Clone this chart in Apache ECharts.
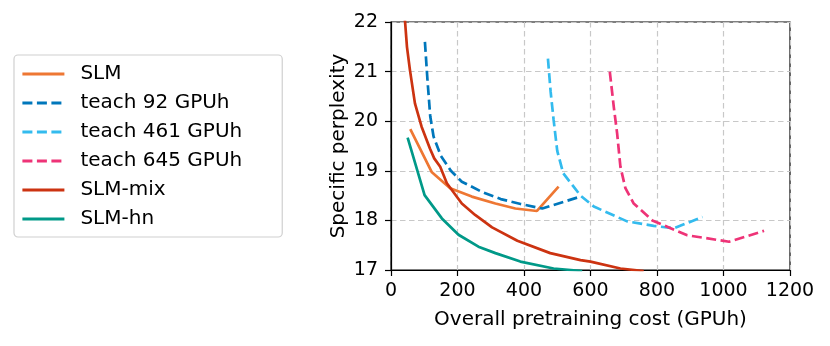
<!DOCTYPE html>
<html>
<head>
<meta charset="utf-8">
<script src="https://cdn.jsdelivr.net/npm/echarts@6/dist/echarts.min.js"></script>
<style>html,body{margin:0;padding:0;background:#fff;}#c{width:830px;height:346px;}</style>
</head>
<body>
<div id="c"></div>
<script>
const xTicks = [0, 200, 400, 600, 800, 1000, 1200];
const yTicks = [17, 18, 19, 20, 21, 22];

const slm = [[58,19.84],[123,18.97],[178,18.65],[243,18.48],[314,18.34],[374,18.24],[439,18.19],[504,18.68]];
const teach92 = [[102,21.6],[110,20.8],[118,20.1],[128,19.69],[150,19.3],[180,19.0],[213,18.78],[275,18.57],[330,18.43],[390,18.33],[455,18.24],[570,18.48]];
const teach461 = [[472,21.26],[480,20.6],[489,20.03],[500,19.4],[518,18.95],[570,18.5],[610,18.28],[710,17.98],[790,17.89],[851,17.84],[937,18.07]];
const teach645 = [[658,21.0],[670,20.29],[680,19.76],[690,19.08],[705,18.65],[730,18.34],[786,18.0],[891,17.7],[1017,17.57],[1122,17.79]];
const slmMix = [[39,22.3],[48,21.5],[57,21.03],[72,20.36],[92,19.89],[117,19.45],[130,19.25],[148,19.08],[168,18.75],[213,18.34],[253,18.11],[304,17.86],[380,17.59],[479,17.34],[570,17.2],[600,17.17],[690,17.03],[760,16.98]];
const slmHn = [[50,19.67],[101,18.51],[153,18.04],[203,17.71],[263,17.47],[314,17.34],[389,17.17],[489,17.03],[575,16.98]];

const names = ['SLM','teach 92 GPUh','teach 461 GPUh','teach 645 GPUh','SLM-mix','SLM-hn'];
const colors = ['#EE7733','#0077BB','#33BBEE','#EE3377','#CC3311','#009988'];
const datasets = [slm, teach92, teach461, teach645, slmMix, slmHn];
const dashed = [false, true, true, true, false, false];

const FONT = 'DejaVu Sans';
const chart = echarts.init(document.getElementById('c'), null, {renderer:'canvas'});
const gridLine = {show:true, lineStyle:{color:'#c8c8c8', width:1.2, type:[5.5,3.5]}};
chart.setOption({
  animation:false,
  backgroundColor:'#fff',
  grid:{left:391, right:40, top:22, bottom:76, show:true, borderColor:'#000', borderWidth:1.2, backgroundColor:'transparent'},
  legend:{
    orient:'vertical', left:14, top:55,
    padding:[9,40,8,7],
    itemWidth:42, itemHeight:14, itemGap:9,
    borderColor:'#d0d0d0', borderWidth:1.2, borderRadius:4,
    itemStyle:{color:'transparent', borderWidth:0, opacity:0},
    lineStyle:{width:2.8},
    textStyle:{fontFamily:FONT, fontSize:20, color:'#000', padding:[0,0,0,11]},
    data:names
  },
  xAxis:{
    type:'value', min:xTicks[0], max:xTicks[xTicks.length-1], interval:200,
    name:'Overall pretraining cost (GPUh)', nameLocation:'middle', nameGap:40,
    nameTextStyle:{fontFamily:FONT, fontSize:20, color:'#000'},
    axisLine:{show:true, lineStyle:{color:'#000', width:1.2}},
    axisTick:{show:true, length:6, lineStyle:{color:'#000', width:1.2}},
    axisLabel:{fontFamily:FONT, fontSize:19, color:'#000', margin:12, formatter:v=>String(v)},
    splitLine:gridLine
  },
  yAxis:{
    type:'value', min:yTicks[0], max:yTicks[yTicks.length-1], interval:1,
    name:'Specific perplexity', nameLocation:'middle', nameGap:42,
    nameTextStyle:{fontFamily:FONT, fontSize:20, color:'#000'},
    axisLine:{show:true, lineStyle:{color:'#000', width:1.2}},
    axisTick:{show:true, length:6, lineStyle:{color:'#000', width:1.2}},
    axisLabel:{fontFamily:FONT, fontSize:19, color:'#000', margin:13, formatter:v=>String(v)},
    splitLine:gridLine
  },
  series: names.map((n,i)=>({
    name:n, type:'line', data:datasets[i], symbol:'none', clip:true, smooth:false,
    lineStyle:{color:colors[i], width:2.7, type: dashed[i] ? [10,4.5] : 'solid', cap:'butt'},
    itemStyle:{color:colors[i]}
  }))
});
</script>
</body>
</html>
